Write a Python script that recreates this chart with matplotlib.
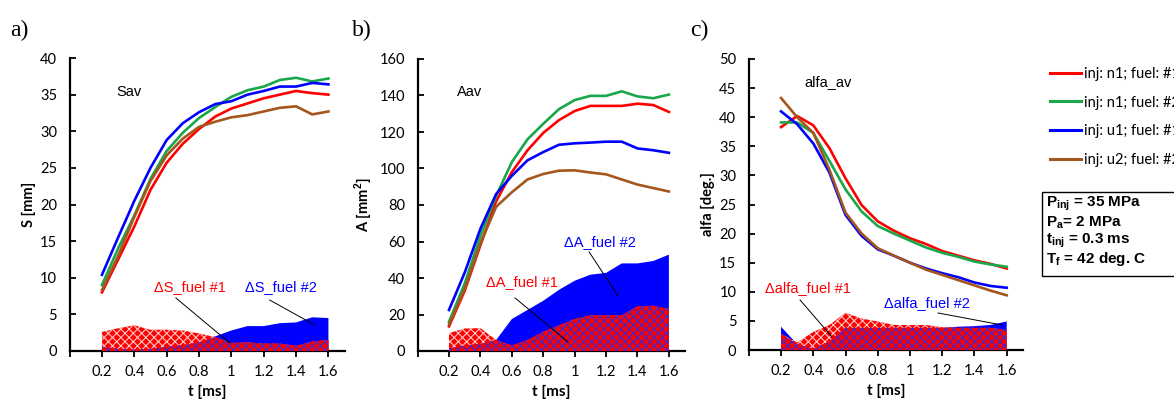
import numpy as np
import matplotlib
matplotlib.use("Agg")
import matplotlib.pyplot as plt
from matplotlib.lines import Line2D
from matplotlib.patches import Rectangle

plt.rcParams["mathtext.fontset"] = "custom"
plt.rcParams["mathtext.rm"] = "Liberation Sans:bold"
plt.rcParams["mathtext.bf"] = "Liberation Sans:bold"
plt.rcParams["hatch.linewidth"] = 0.8

# time axis [ms]
t = [0.2, 0.3, 0.4, 0.5, 0.6, 0.7, 0.8, 0.9, 1.0, 1.1, 1.2, 1.3, 1.4, 1.5, 1.6]

series_labels = ["inj: n1; fuel: #1", "inj: n1; fuel: #2",
                 "inj: u1; fuel: #1", "inj: u2; fuel: #2"]

# panel a) spray tip penetration S [mm]
S_n1_f1 = [8.0, 12.5, 17.0, 22.0, 25.7, 28.3, 30.3, 32.0, 33.1, 33.8, 34.5, 35.0, 35.5, 35.2, 35.0]
S_n1_f2 = [9.0, 14.0, 18.5, 23.5, 27.3, 29.8, 31.8, 33.3, 34.7, 35.6, 36.1, 37.0, 37.3, 36.8, 37.2]
S_u1_f1 = [10.4, 15.5, 20.5, 25.0, 28.8, 31.1, 32.6, 33.7, 34.1, 35.0, 35.5, 36.1, 36.1, 36.6, 36.4]
S_u2_f2 = [8.3, 13.0, 18.3, 23.2, 26.7, 29.0, 30.6, 31.3, 31.9, 32.2, 32.7, 33.2, 33.4, 32.3, 32.7]
dS_f1 = [2.6, 3.1, 3.5, 2.9, 2.9, 2.8, 2.4, 1.9, 1.1, 1.2, 1.0, 1.0, 0.7, 1.3, 1.5]
dS_f2 = [0.6, 0.3, 0.2, 0.3, 0.6, 0.8, 1.2, 2.0, 2.8, 3.4, 3.4, 3.8, 3.9, 4.6, 4.5]

# panel b) spray area A [mm2]
A_n1_f1 = [13.5, 33, 58, 82, 98, 110, 119.5, 126.5, 131.5, 134.3, 134.3, 134.3, 135.5, 134.8, 131]
A_n1_f2 = [16, 37, 63, 85, 103.5, 116, 124.5, 132.5, 137.5, 139.8, 139.8, 142.3, 139.5, 138.5, 140.5]
A_u1_f1 = [22.5, 43, 67, 86, 96, 104.5, 109, 113, 113.8, 114.2, 114.7, 114.7, 111, 110, 108.6]
A_u2_f2 = [14.5, 34, 59, 79, 87, 94, 97, 98.8, 99, 97.8, 96.8, 94, 91.2, 89.3, 87.4]
dA_f1 = [9.8, 12.3, 12.5, 6.0, 3.0, 6.0, 10.5, 14.0, 17.5, 19.5, 19.5, 19.5, 24.5, 24.8, 23.0]
dA_f2 = [1.5, 3.0, 4.0, 6.0, 17.5, 22.5, 27.5, 33.5, 38.5, 41.8, 42.8, 48.0, 48.0, 49.3, 52.8]

# panel c) spray cone angle alfa [deg.]
al_n1_f1 = [38.3, 40.2, 38.6, 34.7, 29.5, 24.9, 22.1, 20.5, 19.2, 18.2, 17.0, 16.2, 15.4, 14.8, 14.0]
al_n1_f2 = [39.1, 39.1, 37.3, 32.5, 27.6, 23.8, 21.3, 20.0, 18.8, 17.6, 16.7, 16.0, 15.2, 14.7, 14.3]
al_u1_f1 = [41.0, 38.8, 35.5, 30.5, 23.2, 19.6, 17.3, 16.2, 15.0, 14.0, 13.2, 12.5, 11.6, 11.0, 10.7]
al_u2_f2 = [43.3, 40.0, 37.3, 31.0, 23.6, 20.0, 17.5, 16.2, 15.0, 13.8, 12.9, 12.0, 11.1, 10.2, 9.4]
dal_f1 = [2.8, 1.3, 3.1, 4.3, 6.4, 5.4, 4.9, 4.3, 4.3, 4.3, 3.9, 3.8, 3.8, 3.8, 3.4]
dal_f2 = [4.0, 1.0, 0.2, 1.5, 3.8, 3.8, 3.8, 3.8, 3.8, 3.8, 3.8, 4.0, 4.1, 4.3, 4.9]

colors = ["#ff0000", "#1aa64a", "#0000ff", "#a5561d"]
TICK_FONT = "Lato"
TEXT_FONT = "Liberation Sans"


def draw_panel(ax, curves, d1, d2, ymax, ystep, ylabel, title, title_xy,
               lab1, lab1_xy, line1, lab2, lab2_xy, line2):
    x = np.array(t)
    d1 = np.array(d1)
    d2 = np.array(d2)
    # difference areas: blue solid, red patterned on top
    ax.fill_between(x, 0, d2, facecolor="#0000ff", edgecolor="none", lw=0, zorder=1)
    ax.fill_between(x, 0, d1, facecolor="#ff0000", edgecolor="#ffc8c8",
                    hatch="xxxx", lw=0, zorder=2)
    ax.fill_between(x, 0, np.minimum(d1, d2), facecolor="#ff0000",
                    edgecolor="#3a2ad8", hatch="xxxx", lw=0, zorder=3)
    for y, c in zip(curves, colors):
        ax.plot(x, y, color=c, lw=1.9, zorder=4)

    ax.set_xlim(0, 1.7)
    ax.set_ylim(0, ymax)
    ax.set_xticks([0, 0.2, 0.4, 0.6, 0.8, 1.0, 1.2, 1.4, 1.6])
    ax.set_xticklabels(["", "0.2", "0.4", "0.6", "0.8", "1", "1.2", "1.4", "1.6"],
                       family=TICK_FONT, fontsize=10.5)
    yt = np.arange(0, ymax + 0.1, ystep)
    ax.set_yticks(yt)
    ax.set_yticklabels([f"{v:g}" for v in yt], family=TICK_FONT, fontsize=10.5)
    ax.tick_params(axis="x", direction="out", length=4, width=1.3, pad=6)
    ax.tick_params(axis="y", direction="in", length=4, width=1.3, pad=9)
    for s in ["top", "right"]:
        ax.spines[s].set_visible(False)
    for s in ["left", "bottom"]:
        ax.spines[s].set_linewidth(1.6)
    ax.set_xlabel("t [ms]", family=TICK_FONT, fontweight="bold", fontsize=11, labelpad=4)
    ax.set_ylabel(ylabel, family=TICK_FONT, fontweight="bold", fontsize=10.5, labelpad=3)

    ax.text(*title_xy, title, family=TEXT_FONT, fontsize=10.5, ha="center", va="center")
    ax.text(*lab1_xy, lab1, family=TEXT_FONT, fontsize=10.5, color="#ff0000",
            ha="center", va="center", zorder=6)
    ax.text(*lab2_xy, lab2, family=TEXT_FONT, fontsize=10.5, color="#0000ff",
            ha="center", va="center", zorder=6)
    ax.plot(line1[0], line1[1], color="black", lw=0.7, zorder=6)
    ax.plot(line2[0], line2[1], color="black", lw=0.7, zorder=6)


fig = plt.figure(figsize=(11.74, 4.04), dpi=100)
ax_a = fig.add_axes([69.6 / 1174, 53 / 404, 275 / 1174, 293 / 404])
ax_b = fig.add_axes([417.6 / 1174, 53 / 404, 267 / 1174, 292 / 404])
ax_c = fig.add_axes([748.8 / 1174, 54 / 404, 274 / 1174, 291 / 404])

draw_panel(ax_a, [S_n1_f1, S_n1_f2, S_u1_f1, S_u2_f2], dS_f1, dS_f2, 40, 5,
           "S [mm]", "Sav", (0.367, 35.4),
           "\u0394S_fuel #1", (0.743, 8.7), ([0.657, 0.99], [7.24, 1.1]),
           "\u0394S_fuel #2", (1.305, 8.7), ([1.237, 1.515], [6.96, 3.55]))
draw_panel(ax_b, [A_n1_f1, A_n1_f2, A_u1_f1, A_u2_f2], dA_f1, dA_f2, 160, 20,
           "A [mm$^2$]", "Aav", (0.334, 142),
           "\u0394A_fuel #1", (0.665, 37.9), ([0.62, 0.958], [29.1, 4.9]),
           "\u0394A_fuel #2", (1.162, 59.8), ([1.092, 1.276], [54.3, 30.2]))
draw_panel(ax_c, [al_n1_f1, al_n1_f2, al_u1_f1, al_u2_f2], dal_f1, dal_f2, 50, 5,
           "alfa [deg.]", "alfa_av", (0.491, 46.1),
           "\u0394alfa_fuel #1", (0.367, 10.66), ([0.318, 0.516], [8.6, 2.24]),
           "\u0394alfa_fuel #2", (1.105, 8.08), ([1.174, 1.571], [6.36, 4.3]))

for lab, xpx in [("a)", 10), ("b)", 352), ("c)", 690)]:
    fig.text(xpx / 1174, 1 - 30 / 404, lab, family="Liberation Serif",
             fontsize=17, ha="left", va="center")

handles = [Line2D([], [], color=c, lw=2.2) for c in colors]
fig.legend(handles, series_labels, loc="upper left",
           bbox_to_anchor=(1050 / 1174, 1 - 67 / 404), frameon=False,
           prop={"family": TICK_FONT, "size": 10.5}, handlelength=2.1,
           handletextpad=0.25, labelspacing=1.0, borderpad=0, borderaxespad=0)

fig.add_artist(Rectangle((1042 / 1174, 1 - 276 / 404), 200 / 1174, 84 / 404,
                         transform=fig.transFigure, facecolor="white",
                         edgecolor="black", lw=1.0))
info = ["P$_{\\mathrm{inj}}$ = 35 MPa", "P$_{\\mathrm{a}}$= 2 MPa",
        "t$_{\\mathrm{inj}}$ = 0.3 ms", "T$_{\\mathrm{f}}$ = 42 deg. C"]
for i, s in enumerate(info):
    fig.text(1046 / 1174, 1 - (204 + 18.3 * i) / 404, s, family=TEXT_FONT,
             fontweight="bold", fontsize=11, ha="left", va="center")

fig.savefig("out.png", dpi=100)
